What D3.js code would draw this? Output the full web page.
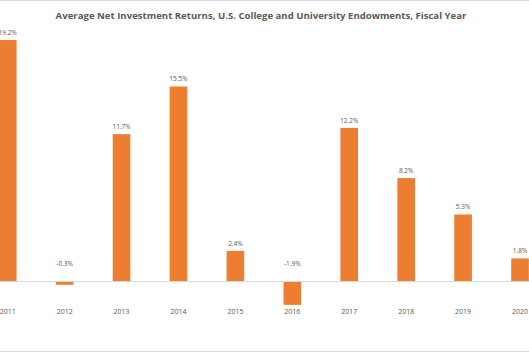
<!DOCTYPE html>
<html lang="en">
<head>
    <meta charset="UTF-8">
    <title>Endowment Returns</title>
    <script src="https://d3js.org/d3.v7.min.js"></script>
    <style>
        body { margin: 0; background: #fff; }
        svg { display: block; }
    </style>
</head>
<body>
    <div id="chart-container"></div>
    <script>
        const years = ["2011", "2012", "2013", "2014", "2015", "2016", "2017", "2018", "2019", "2020"];
        const returns = [19.2, -0.3, 11.7, 15.5, 2.4, -1.9, 12.2, 8.2, 5.3, 1.8];
        const title = "Average Net Investment Returns, U.S. College and University Endowments, Fiscal Year";

        const containerWidth = 529;
        const containerHeight = 353;

        const svg = d3.select("#chart-container")
            .append("svg")
            .attr("width", containerWidth)
            .attr("height", containerHeight);

        const data = years.map((y, i) => ({ year: y, value: returns[i] }));

        // chart is cropped on both sides, so the band range runs past the edges
        const x = d3.scaleBand()
            .domain(years)
            .range([-20.75, 548.5])
            .paddingInner(0.69)
            .paddingOuter(0.345);

        const y = d3.scaleLinear()
            .domain([0, 20])
            .range([281, 30]);

        // frame lines top and bottom
        svg.append("line")
            .attr("x1", 0).attr("x2", containerWidth)
            .attr("y1", 0.5).attr("y2", 0.5)
            .style("stroke", "#d9d9d9");
        svg.append("line")
            .attr("x1", 0).attr("x2", containerWidth)
            .attr("y1", 351.5).attr("y2", 351.5)
            .style("stroke", "#d9d9d9");

        svg.append("text")
            .attr("x", 261)
            .attr("y", 19)
            .attr("text-anchor", "middle")
            .style("font-family", "'Open Sans', sans-serif")
            .style("font-size", "9.6px")
            .style("font-weight", 700)
            .style("fill", "#595959")
            .text(title);

        svg.selectAll(".bar")
            .data(data)
            .enter()
            .append("rect")
            .attr("class", "bar")
            .attr("x", d => x(d.year))
            .attr("width", x.bandwidth())
            .attr("y", d => y(Math.max(0, d.value)))
            .attr("height", d => Math.abs(y(d.value) - y(0)))
            .style("fill", "#ed7d31");

        // zero line
        svg.append("line")
            .attr("x1", 0).attr("x2", containerWidth)
            .attr("y1", y(0) + 0.5).attr("y2", y(0) + 0.5)
            .style("stroke", "#d9d9d9");

        svg.selectAll(".val")
            .data(data)
            .enter()
            .append("text")
            .attr("class", "val")
            .attr("x", d => x(d.year) + x.bandwidth() / 2)
            .attr("y", d => d.value >= 0 ? y(d.value) - 5 : y(0) - 15)
            .attr("text-anchor", "middle")
            .style("font-family", "'Open Sans', sans-serif")
            .style("font-size", "6.5px")
            .style("fill", "#595959")
            .text(d => d.value.toFixed(1) + "%");

        svg.selectAll(".yr")
            .data(data)
            .enter()
            .append("text")
            .attr("class", "yr")
            .attr("x", d => x(d.year) + x.bandwidth() / 2)
            .attr("y", 314)
            .attr("text-anchor", "middle")
            .style("font-family", "'Open Sans', sans-serif")
            .style("font-size", "7px")
            .style("fill", "#595959")
            .text(d => d.year);
    </script>
</body>
</html>
